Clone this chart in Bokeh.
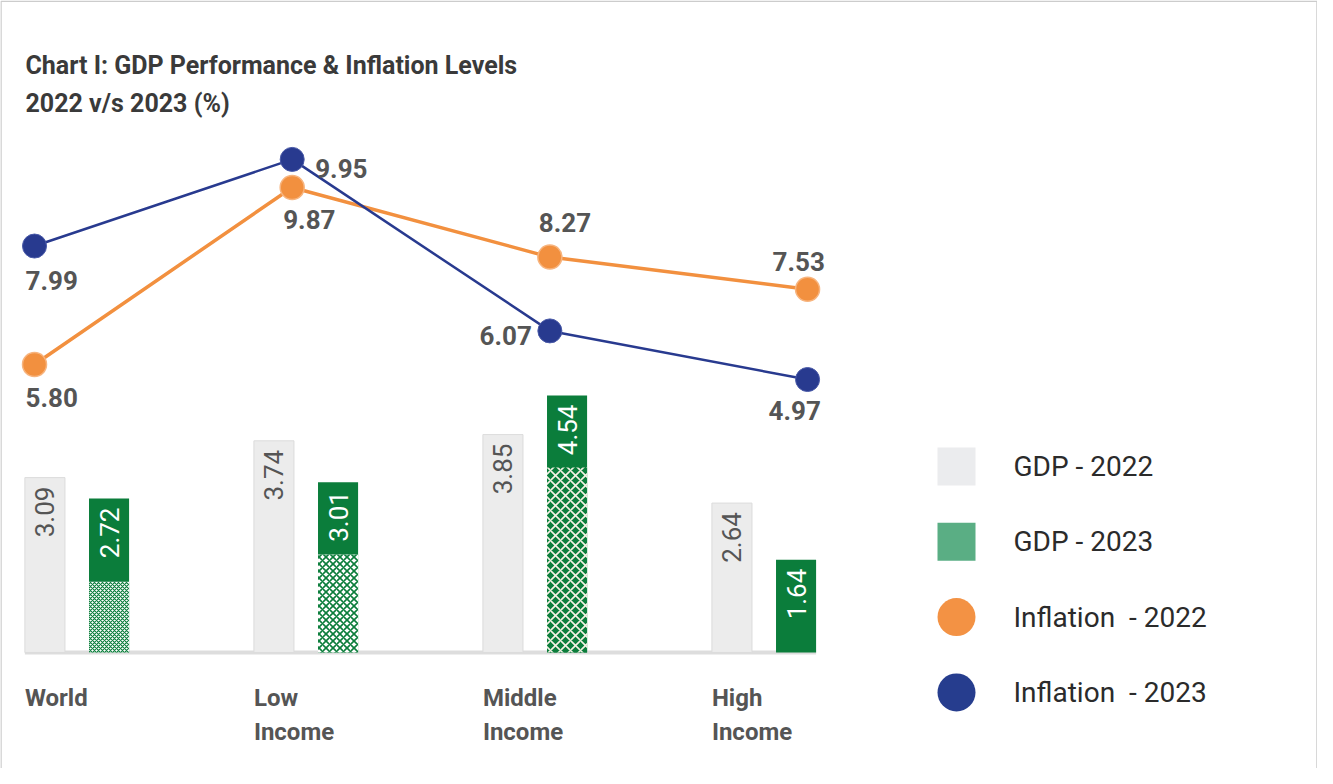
from math import pi
from bokeh.plotting import figure
from bokeh.models import Range1d, ColumnDataSource
from bokeh.core.properties import value
from bokeh.embed import file_html
from bokeh.resources import INLINE

# ---------------- data ----------------
categories = ["World", "Low Income", "Middle Income", "High Income"]
cat_line1 = ["World", "Low", "Middle", "High"]
cat_line2 = ["", "Income", "Income", "Income"]
gdp_2022 = [3.09, 3.74, 3.85, 2.64]
gdp_2023 = [2.72, 3.01, 4.54, 1.64]
gdp_2023_hatched = [1.25, 1.73, 3.27, 0.0]   # hatched lower part of 2023 bars
infl_2022 = [5.80, 9.87, 8.27, 7.53]
infl_2023 = [7.99, 9.95, 6.07, 4.97]
legend_labels = ["GDP - 2022", "GDP - 2023", "Inflation \u00a0- 2022", "Inflation \u00a0- 2023"]
title_lines = ["Chart I: GDP Performance & Inflation Levels", "2022 v/s 2023 (%)"]

# ---------------- style ----------------
W, H = 1317, 768
FONT = value("Roboto")
GREY_BAR = "#ececec"
GREEN = "#0b7d3b"
ORANGE = "#f2903f"
BLUE = "#283a8f"
TXT = "#555555"

p = figure(width=W, height=H, output_backend="svg", toolbar_location=None,
           x_range=Range1d(-0.334, 5.417), y_range=Range1d(-2.05, 11.52),
           x_axis_location=None, y_axis_location=None,
           min_border=0, min_border_left=0, min_border_right=0,
           min_border_top=0, min_border_bottom=0)
p.grid.visible = False
p.outline_line_color = None
p.background_fill_color = "white"
p.border_fill_color = "white"

p.extra_x_ranges = {"ln": Range1d(-0.132, 4.979), "px": Range1d(0, W)}
p.extra_y_ranges = {"ln22": Range1d(-3.487, 14.168), "ln23": Range1d(-3.830, 13.545),
                    "px": Range1d(H, 0)}

# border (layout)
p.line(x=[0.5, 0.5, W - 0.5, W - 0.5], y=[H, 0.75, 0.75, H],
       x_range_name="px", y_range_name="px", line_color="#cccccc", line_width=1.5)

# ---------------- title ----------------
p.text(x=[25, 25], y=[65, 103], text=title_lines, x_range_name="px", y_range_name="px",
       text_font=FONT, text_font_style="bold", text_font_size="25px",
       text_color="#3a3a3a", text_align="left", text_baseline="middle")

# ---------------- bars ----------------
idx = list(range(len(categories)))
DODGE, BW = 0.14, 0.175
x22 = [i - DODGE for i in idx]
x23 = [i + DODGE for i in idx]

p.line(x=[x22[0] - BW / 2, x23[-1] + BW / 2], y=[0, 0], line_color="#dddddd", line_width=4)

p.vbar(x=x22, top=gdp_2022, bottom=0, width=BW, fill_color=GREY_BAR, line_color="#dcdcdc", line_width=1)
p.vbar(x=x23, top=gdp_2023, bottom=0, width=BW, fill_color=GREEN, line_color=None)

hx, htop, hfill, hcol, hscale, hpat, hweight = [], [], [], [], [], [], []
hstyles = [("white", GREEN, 4, 1.2), ("white", GREEN, 7, 1.6), (GREEN, "#f3f1e4", 10, 1.6), ("white", GREEN, 6, 1.5)]
for i, h in enumerate(gdp_2023_hatched):
    if h > 0:
        hx.append(x23[i]); htop.append(h)
        f, c, s, w = hstyles[i]
        hfill.append(f); hcol.append(c); hscale.append(s); hweight.append(w); hpat.append("x")
hsrc = ColumnDataSource(dict(x=hx, top=htop, fill=hfill, hcol=hcol, hscale=hscale, hpat=hpat, hw=hweight))
p.vbar(x="x", top="top", bottom=0, width=BW, source=hsrc, fill_color="fill", line_color=None,
       hatch_pattern="hpat", hatch_color="hcol", hatch_scale="hscale", hatch_weight="hw")

p.text(x=x22, y=gdp_2022, text=[f"{v:.2f}" for v in gdp_2022], angle=pi / 2,
       text_align="right", text_baseline="middle", y_offset=9,
       text_font=FONT, text_font_size="26px", text_color=TXT)
p.text(x=x23, y=gdp_2023, text=[f"{v:.2f}" for v in gdp_2023], angle=pi / 2,
       text_align="right", text_baseline="middle", y_offset=9,
       text_font=FONT, text_font_size="26px", text_color="white")

# category labels
p.text(x=[x - BW / 2 for x in x22], y=[0] * 4, text=cat_line1, y_offset=46,
       text_font=FONT, text_font_style="bold", text_font_size="24px", text_color=TXT,
       text_align="left", text_baseline="middle")
p.text(x=[x - BW / 2 for x in x22], y=[0] * 4, text=cat_line2, y_offset=80,
       text_font=FONT, text_font_style="bold", text_font_size="24px", text_color=TXT,
       text_align="left", text_baseline="middle")

# ---------------- lines ----------------
p.line(x=idx, y=infl_2022, x_range_name="ln", y_range_name="ln22", line_color=ORANGE, line_width=3.5)
p.scatter(x=idx, y=infl_2022, x_range_name="ln", y_range_name="ln22", size=24,
          fill_color=ORANGE, line_color="#f7b47e", line_width=1.5)
p.line(x=idx, y=infl_2023, x_range_name="ln", y_range_name="ln23", line_color=BLUE, line_width=2.5)
p.scatter(x=idx, y=infl_2023, x_range_name="ln", y_range_name="ln23", size=24,
          fill_color=BLUE, line_color="#4a5aa8", line_width=1)

off22 = [(-9, 33, "left"), (-9, 32, "left"), (-11, -35, "left"), (-35, -28, "left")]
off23 = [(-9, 34, "left"), (23, 9, "left"), (-18, 5, "right"), (-39, 31, "left")]
for vals, offs, yr in ((infl_2022, off22, "ln22"), (infl_2023, off23, "ln23")):
    src = ColumnDataSource(dict(x=idx, y=vals, t=[f"{v:.2f}" for v in vals],
                                dx=[o[0] for o in offs], dy=[o[1] for o in offs],
                                al=[o[2] for o in offs]))
    p.text(x="x", y="y", text="t", x_offset="dx", y_offset="dy", text_align="al",
           source=src, x_range_name="ln", y_range_name=yr,
           text_font=FONT, text_font_style="bold", text_font_size="26px",
           text_color=TXT, text_baseline="middle")

# ---------------- legend (layout) ----------------
LX, LY0, LSTEP, TX = 956, 466, 75.3, 1013
ly = [LY0 + k * LSTEP for k in range(4)]
p.scatter(x=[LX, LX], y=ly[:2], marker="square", size=38, x_range_name="px", y_range_name="px",
          fill_color=["#ebecee", "#5aae84"], line_color=None)
p.scatter(x=[LX, LX], y=ly[2:], marker="circle", size=38, x_range_name="px", y_range_name="px",
          fill_color=["#f39244", "#263d8e"], line_color=None)
p.text(x=[TX] * 4, y=ly, text=legend_labels, x_range_name="px", y_range_name="px",
       text_font=FONT, text_font_size="28px", text_color="#2b2b2b",
       text_align="left", text_baseline="middle")

open("out.html", "w").write(file_html(p, INLINE))
